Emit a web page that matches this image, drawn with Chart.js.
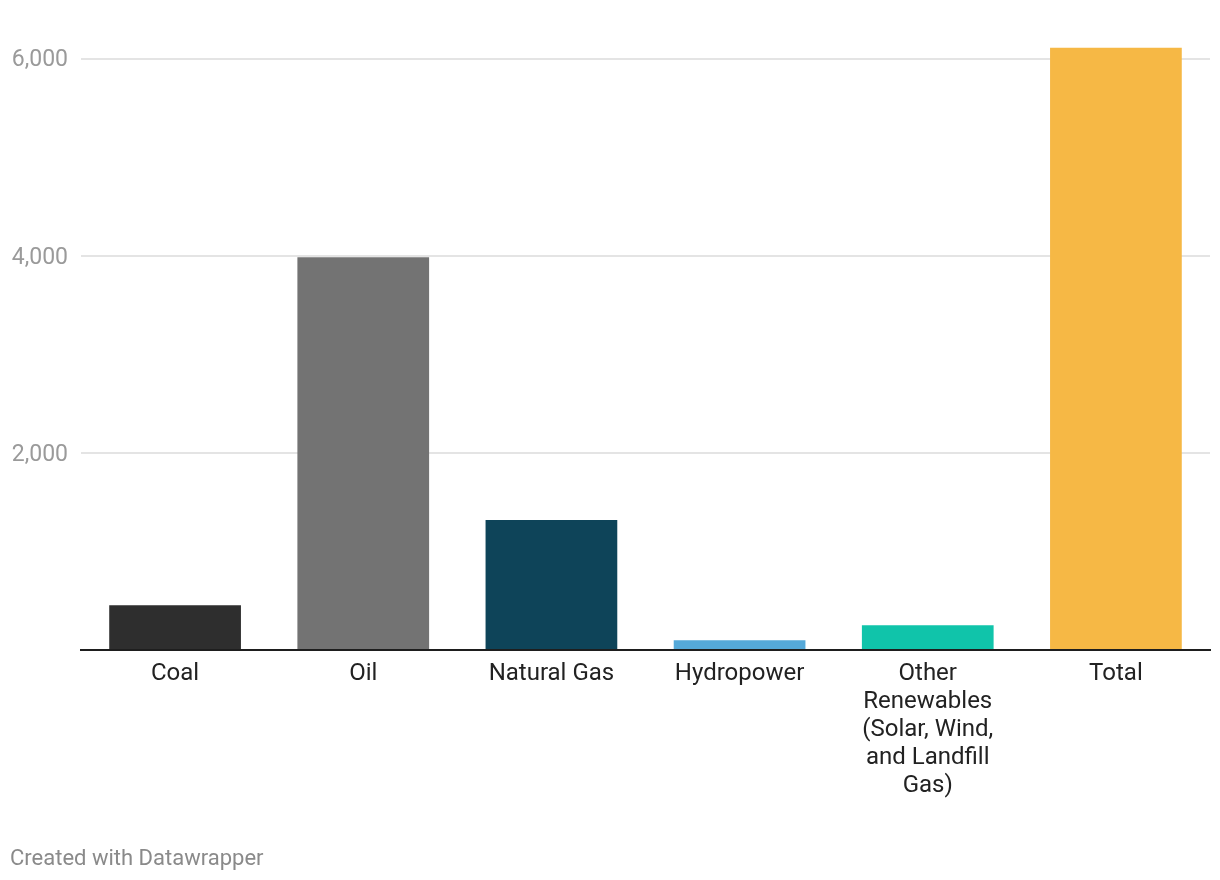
<!DOCTYPE html>
<html>
<head>
<meta charset="utf-8">
<script src="https://cdn.jsdelivr.net/npm/chart.js@4"></script>
<style>
  html, body { margin: 0; padding: 0; background: #ffffff; }
  #wrap { position: relative; width: 1220px; height: 880px; }
  #c { position: absolute; left: 0; top: 0; }
  #footer { position: absolute; left: 10px; top: 845px; font-family: Roboto, sans-serif; font-size: 22px; color: #8a8a8a; }
</style>
</head>
<body>
<div id="wrap">
  <canvas id="c" width="1220" height="880"></canvas>
  <div id="footer">Created with Datawrapper</div>
</div>
<script>
const categories = [
  'Coal',
  'Oil',
  'Natural Gas',
  'Hydropower',
  ['Other', 'Renewables', '(Solar, Wind,', 'and Landfill', 'Gas)'],
  'Total'
];
const values = [455, 3985, 1320, 100, 250, 6110];
const barColors = ['#2e2e2e', '#737373', '#0e4459', '#55a9d9', '#10c4aa', '#f6b845'];
const yTicks = [0, 2000, 4000, 6000];

new Chart(document.getElementById('c'), {
  type: 'bar',
  data: {
    labels: categories,
    datasets: [{
      data: values,
      backgroundColor: barColors,
      borderWidth: 0,
      barPercentage: 0.7,
      categoryPercentage: 1.0
    }]
  },
  options: {
    responsive: false,
    animation: false,
    devicePixelRatio: 1,
    layout: { padding: { top: 39, right: 10, bottom: 70, left: 0 } },
    plugins: { legend: { display: false }, tooltip: { enabled: false } },
    scales: {
      x: {
        grid: { display: false, drawTicks: false },
        border: { display: true, color: '#1e1e1e', width: 2 },
        ticks: {
          color: '#222222',
          font: { family: 'Roboto', size: 24, lineHeight: 1.1667 },
          padding: 10,
          maxRotation: 0,
          autoSkip: false
        }
      },
      y: {
        min: 0,
        max: 6200,
        afterBuildTicks: (scale) => { scale.ticks = yTicks.map(v => ({ value: v })); },
        afterFit: (scale) => { scale.width = 81; },
        grid: { color: '#e4e4e4', lineWidth: 2, drawTicks: false },
        border: { display: false },
        ticks: {
          color: '#9a9a9a',
          font: { family: 'Roboto', size: 23 },
          padding: 13,
          labelOffset: 2,
          callback: (v) => v === 0 ? '' : v.toLocaleString('en-US')
        }
      }
    }
  }
});
</script>
</body>
</html>
